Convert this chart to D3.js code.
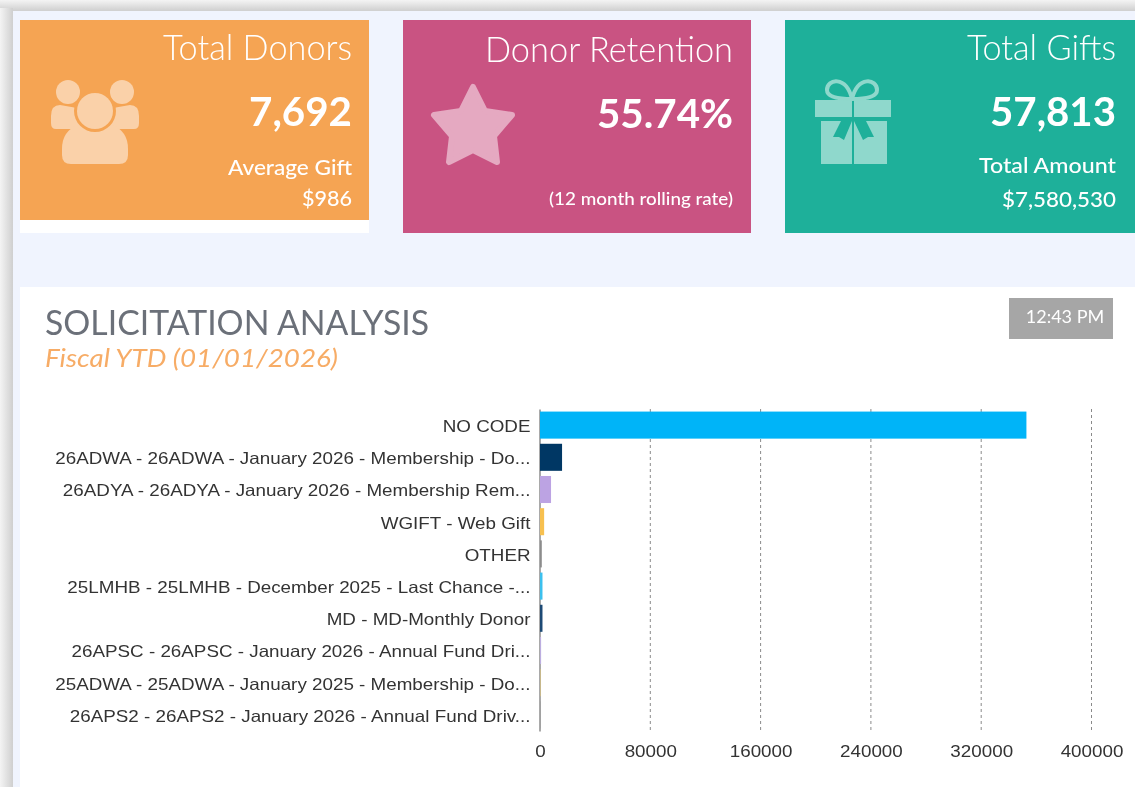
<!DOCTYPE html>
<html>
<head>
<meta charset="utf-8">
<script src="https://cdn.jsdelivr.net/npm/d3@7"></script>
<style>
  html, body { margin: 0; padding: 0; background: #fff; overflow: hidden; }
  svg { filter: blur(0.35px); }
  .card text, .head text { font-family: Lato, "Open Sans", sans-serif; }
  .axis text { font-family: "Liberation Sans", Arial, sans-serif; font-size: 16.5px; fill: #333; }
</style>
</head>
<body>
<div id="chart"></div>
<script>
const categories = ["NO CODE", "26ADWA - 26ADWA - January 2026 - Membership - Do...", "26ADYA - 26ADYA - January 2026 - Membership Rem...", "WGIFT - Web Gift", "OTHER", "25LMHB - 25LMHB - December 2025 - Last Chance -...", "MD - MD-Monthly Donor", "26APSC - 26APSC - January 2026 - Annual Fund Dri...", "25ADWA - 25ADWA - January 2025 - Membership - Do...", "26APS2 - 26APS2 - January 2026 - Annual Fund Driv..."]
const amounts = [352800, 16000, 8000, 3000, 1300, 1800, 1800, 800, 700, 600]
const barColours = ["#00b4f8", "#003764", "#bca3e3", "#f7c04f", "#8c8c8c", "#3cc0ee", "#1d4a75", "#bcaee0", "#c9b98a", "#a0a0a0"]
const xTicks = [0, 80000, 160000, 240000, 320000, 400000]

const cardTitles = ["Total Donors", "Donor Retention", "Total Gifts"]
const cardValues = ["7,692", "55.74%", "57,813"]
const cardLabels = ["Average Gift", "(12 month rolling rate)", "Total Amount"]
const cardSubs = ["$986", "", "$7,580,530"]

const width = 1135
const height = 787
const margin = { top: 409, bottom: 56, left: 540, right: 43.5 }

const svg = d3.select("#chart").append("svg").attr("width", width).attr("height", height).style("display", "block")

// window shadow + page background
const defs = svg.append("defs")
const shadowX = defs.append("linearGradient").attr("id", "shadowX")
shadowX.append("stop").attr("offset", "0").attr("stop-color", "#f4f4f4")
shadowX.append("stop").attr("offset", "1").attr("stop-color", "#cfcfcf")
const shadowY = defs.append("linearGradient").attr("id", "shadowY").attr("x2", 0).attr("y2", 1)
shadowY.append("stop").attr("offset", "0").attr("stop-color", "#f4f4f4")
shadowY.append("stop").attr("offset", "1").attr("stop-color", "#cfcfcf")
svg.append("rect").attr("width", width).attr("height", 11).attr("fill", "url(#shadowY)")
svg.append("rect").attr("y", 8).attr("width", 13).attr("height", height).attr("fill", "url(#shadowX)")
svg.append("rect").attr("x", 13).attr("y", 11).attr("width", width).attr("height", height).attr("fill", "#f0f4fe")

// KPI cards
const cardX = [20, 403, 785]
const cardW = [349, 348, 350]
const cardH = [200, 213, 213]
const cardFill = ["#f5a453", "#c95382", "#1eb09a"]
const titleW = [189, 248, 149]
const titleY = [60, 62, 60]
const valueW = [103, 136, 126]
const valueY = [126, 128, 126]
const labelW = [124, 184, 137]
const labelY = [175, 205, 173]
const subW = [50, 0, 114]
const subY = [206, 0, 207]
const textRight = [352, 733, 1116]

svg.append("rect").attr("x", 20).attr("y", 20).attr("width", 349).attr("height", 213).attr("fill", "#fff")

cardTitles.forEach((t, i) => {
    const g = svg.append("g").attr("class", "card")
    g.append("rect").attr("x", cardX[i]).attr("y", 20).attr("width", cardW[i]).attr("height", cardH[i]).attr("fill", cardFill[i])
    const put = (txt, y, size, w, weight) => g.append("text")
        .attr("x", textRight[i]).attr("y", y)
        .attr("text-anchor", "end").attr("fill", "#fff")
        .attr("font-size", size).attr("font-weight", weight)
        .attr("textLength", w).attr("lengthAdjust", "spacingAndGlyphs")
        .text(txt)
    put(t, titleY[i], 35, titleW[i], 300)
    put(cardValues[i], valueY[i], 41, valueW[i], 700)
    put(cardLabels[i], labelY[i], i == 1 ? 18 : 22, labelW[i], 500)
    if (cardSubs[i]) put(cardSubs[i], subY[i], 22, subW[i], 500)
})

// people icon
const people = svg.append("g").attr("fill", "#fad1a9")
people.append("circle").attr("cx", 68).attr("cy", 92).attr("r", 12)
people.append("circle").attr("cx", 122).attr("cy", 92).attr("r", 12)
people.append("path").attr("d", "M51 116q0 -11 9 -11q12 2 22 4v20h-26q-5 0 -5 -6z M139 116q0 -11 -9 -11q-12 2 -22 4v20h26q5 0 5 -6z")
people.append("path").attr("d", "M78 125h34q16 6 16 24v6q0 9 -9 9h-48q-9 0 -9 -9v-6q0 -18 16 -24z")
people.append("circle").attr("cx", 95).attr("cy", 111).attr("r", 21).attr("fill", "#f5a453")
people.append("circle").attr("cx", 95).attr("cy", 111).attr("r", 18)

// star icon
svg.append("path").attr("fill", "#e5a9c1").attr("stroke", "#e5a9c1").attr("stroke-width", 6).attr("stroke-linejoin", "round")
    .attr("d", "M473 87L485 111L512 115L494 136L497 162L473 150L449 162L452 136L434 115L461 111Z")

// gift icon
const gift = svg.append("g").attr("fill", "#8fd8cc")
gift.append("path").attr("d", "M815 100h37v17h-37z M854 100h37v17h-37z M821 121h31v43h-31z M854 121h33v43h-33z")
gift.append("path").attr("fill", "none").attr("stroke", "#8fd8cc").attr("stroke-width", 4).attr("d",
    "M852 99c-6 -24 -25 -20 -25 -9c0 8 14 9 25 9c11 0 25 -1 25 -9c0 -11 -19 -15 -25 9")
gift.append("path").attr("fill", "#1eb09a").attr("d", "M852 121l-8 19l-5 -3l-6 0l8 -16z M854 121l9 19l5 -3l6 0l-8 -16z")

// main panel
svg.append("rect").attr("x", 20).attr("y", 287).attr("width", width).attr("height", 500).attr("fill", "#fff")
const head = svg.append("g").attr("class", "head")
head.append("text").attr("x", 45).attr("y", 335).attr("font-size", 35).attr("fill", "#6b7079")
    .attr("textLength", 384).attr("lengthAdjust", "spacingAndGlyphs").text("SOLICITATION ANALYSIS")
head.append("text").attr("x", 45).attr("y", 367).attr("font-size", 26).attr("font-style", "italic").attr("fill", "#f7ac66")
    .attr("textLength", 293).attr("lengthAdjust", "spacingAndGlyphs").text("Fiscal YTD (01/01/2026)")
head.append("rect").attr("x", 1009).attr("y", 298).attr("width", 104).attr("height", 41).attr("fill", "#a6a6a6")
head.append("text").attr("x", 1065).attr("y", 323).attr("text-anchor", "middle").attr("font-size", 18).attr("fill", "#fff").text("12:43 PM")

// bar chart
const plotW = width - margin.left - margin.right
const plotH = height - margin.top - margin.bottom
const elementGroup = svg.append("g").attr("transform", `translate(${margin.left}, ${margin.top})`)

const x = d3.scaleLinear().domain([0, 400000]).range([0, plotW])
const y = d3.scaleBand().domain(categories).range([0, plotH]).paddingInner(0.16).paddingOuter(0.08)

const grid = elementGroup.append("g")
grid.selectAll("line").data(xTicks.slice(1)).enter().append("line")
    .attr("x1", d => x(d)).attr("x2", d => x(d))
    .attr("y1", 0).attr("y2", plotH)
    .attr("stroke", "#8a8a8a").attr("stroke-dasharray", "3,3")

// stretch the axis labels, the original is wider than Liberation at this height
const stretch = sel => sel.each(function() {
    d3.select(this).attr("textLength", this.getComputedTextLength() * 1.14).attr("lengthAdjust", "spacingAndGlyphs")
})

const yAxis = d3.axisLeft(y).tickSize(0).tickPadding(9)
const yAxisGroup = elementGroup.append("g").attr("class", "axis").attr("transform", "translate(-0.5, 0)").call(yAxis)
yAxisGroup.select(".domain").attr("stroke", "#8c8c8c").attr("stroke-width", 1.5)
yAxisGroup.selectAll("text").attr("dy", "0.42em").call(stretch)

elementGroup.selectAll("rect").data(categories).enter().append("rect")
    .attr("x", 0)
    .attr("y", d => y(d))
    .attr("width", (d, i) => x(amounts[i]))
    .attr("height", y.bandwidth())
    .attr("fill", (d, i) => barColours[i])

const xAxis = d3.axisBottom(x).tickValues(xTicks).tickFormat(d3.format("d")).tickSize(0).tickPadding(14)
const xAxisGroup = elementGroup.append("g").attr("class", "axis").attr("transform", `translate(0, ${plotH})`).call(xAxis)
xAxisGroup.select(".domain").remove()
xAxisGroup.selectAll("text").call(stretch)
</script>
</body>
</html>
